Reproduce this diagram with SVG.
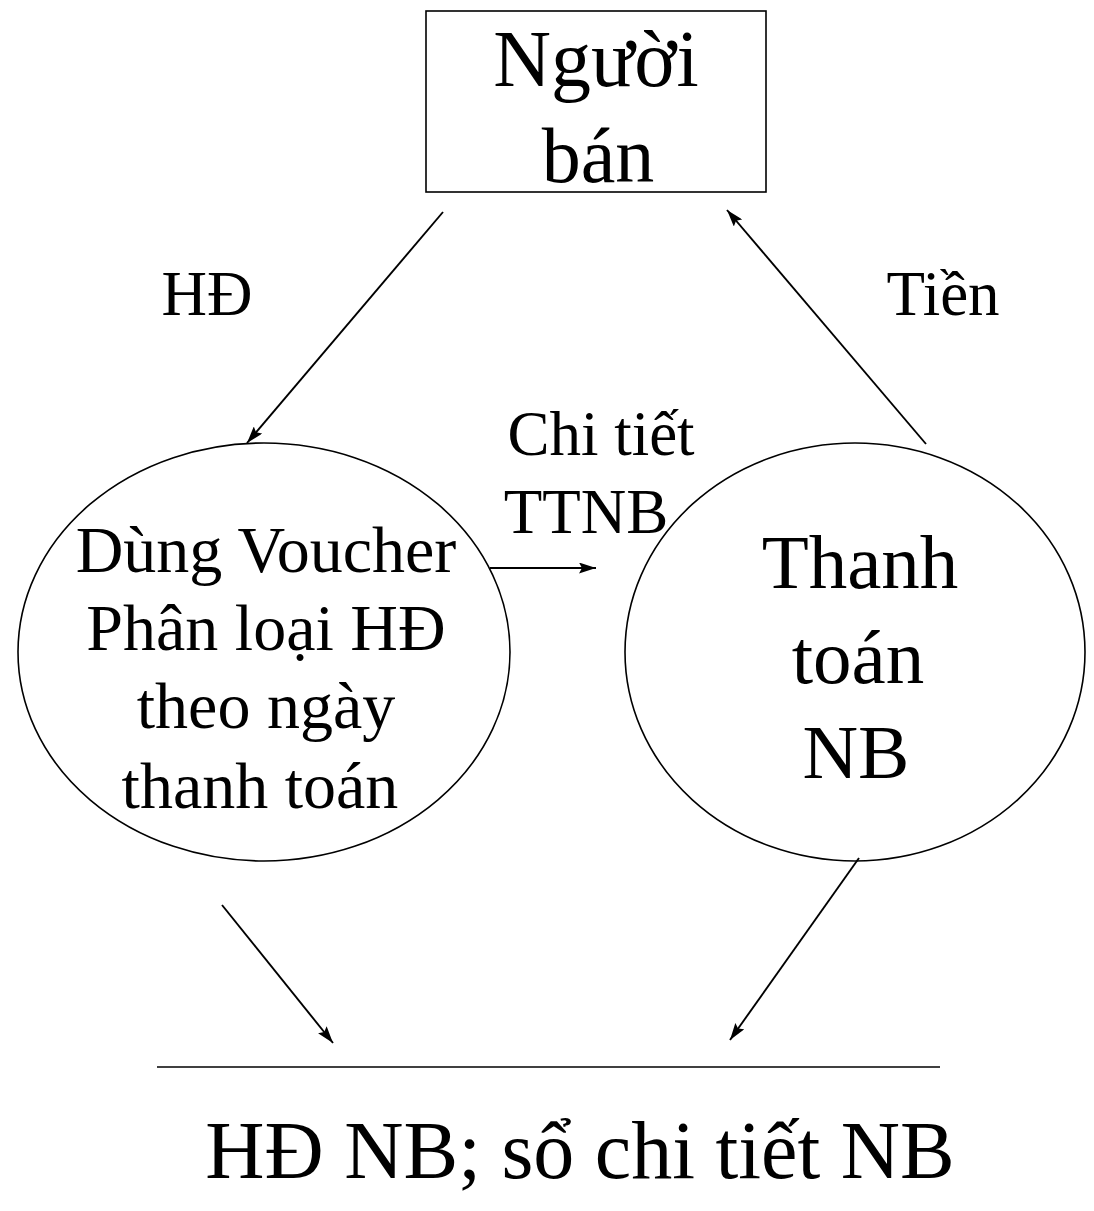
<svg xmlns="http://www.w3.org/2000/svg" width="1094" height="1211" viewBox="0 0 1094 1211">
<style>
text{font-family:"Liberation Serif","Times New Roman",serif;fill:#000;text-anchor:middle}
.s{fill:none;stroke:#000;stroke-width:1.6}
.c{stroke:#000;stroke-width:1.9;fill:none}
.lbl{font-size:63px}
.el{font-size:66px}
.er{font-size:77px}
</style>
<defs>
<marker id="ah" viewBox="0 0 17 11" refX="17" refY="5.5" markerWidth="17" markerHeight="11" markerUnits="userSpaceOnUse" orient="auto">
<path d="M0,0 L17,5.5 L0,11 L3,5.5 z" fill="#000"/>
</marker>
</defs>
<rect width="1094" height="1211" fill="#fff"/>
<g id="nguoi-ban">
<rect class="s" x="426" y="11" width="340" height="181" stroke-width="2"/>
<text x="596" y="86" font-size="80">Người</text>
<text x="598" y="182" font-size="78">bán</text>
</g>
<g id="phan-loai">
<ellipse class="s" cx="264" cy="652" rx="246" ry="209"/>
<text class="el" x="266" y="572">Dùng Voucher</text>
<text class="el" x="266" y="650">Phân loại HĐ</text>
<text class="el" x="266" y="728">theo ngày</text>
<text class="el" x="260" y="808">thanh toán</text>
</g>
<g id="thanh-toan">
<ellipse class="s" cx="855" cy="652" rx="230" ry="209"/>
<text class="er" x="860" y="588">Thanh</text>
<text class="er" x="858" y="683">toán</text>
<text class="er" x="856" y="778">NB</text>
</g>
<g id="so-chi-tiet">
<line class="s" x1="157" y1="1067" x2="940" y2="1067"/>
<text x="580" y="1178" font-size="82">HĐ NB; sổ chi tiết NB</text>
</g>
<g id="connectors">
<line class="c" x1="443" y1="212" x2="247" y2="443" marker-end="url(#ah)"/>
<line class="c" x1="926" y1="444" x2="727" y2="210" marker-end="url(#ah)"/>
<line class="c" x1="490" y1="568" x2="596" y2="568" marker-end="url(#ah)"/>
<line class="c" x1="222" y1="905" x2="333" y2="1043" marker-end="url(#ah)"/>
<line class="c" x1="859" y1="858" x2="730" y2="1040" marker-end="url(#ah)"/>
</g>
<g id="labels">
<text class="lbl" x="207" y="315">HĐ</text>
<text class="lbl" x="943" y="315">Tiền</text>
<text class="lbl" x="601" y="455">Chi tiết</text>
<text class="lbl" x="586" y="533">TTNB</text>
</g>
</svg>
